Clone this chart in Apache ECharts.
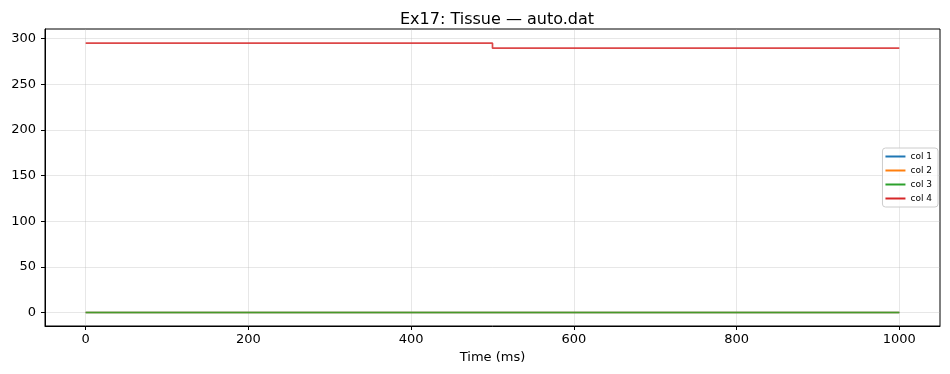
<!DOCTYPE html>
<html><head><meta charset="utf-8">
<script src="https://cdn.jsdelivr.net/npm/echarts@6/dist/echarts.min.js"></script>
<style>html,body{margin:0;padding:0;background:#fff}#c{width:950px;height:374px}</style>
</head><body><div id="c"></div>
<script>
const time = [0, 500, 1000];
const col1 = [0, 0, 0];
const col2 = [0, 0, 0];
const col3 = [0, 0, 0];
const col4 = [295, 289.5, 289.5];
const seriesNames = ['col 1', 'col 2', 'col 3', 'col 4'];
const xTicks = [0, 200, 400, 600, 800, 1000];
const yTicks = [0, 50, 100, 150, 200, 250, 300];

const colors = ['#1f77b4', '#ff7f0e', '#2ca02c', '#d62728'];
const FONT = 'DejaVu Sans';
const cols = [col1, col2, col3, col4];
const chart = echarts.init(document.getElementById('c'));
chart.setOption({
  animation: false,
  textStyle: {fontFamily: FONT},
  title: {text: 'Ex17: Tissue — auto.dat', left: 492, textAlign: 'center', top: 7,
    textStyle: {fontFamily: FONT, fontSize: 16, fontWeight: 'normal', color: '#000'}},
  grid: {left: 45, right: 10, top: 29, bottom: 48, show: true, borderColor: '#000', borderWidth: 1},
  legend: {orient: 'vertical', right: 12, top: 148, itemWidth: 20, itemHeight: 8, itemGap: 5,
    backgroundColor: 'rgba(255,255,255,0.8)', borderColor: '#ccc', borderWidth: 1, borderRadius: 3,
    padding: [4, 6, 4, 3],
    textStyle: {fontFamily: FONT, fontSize: 9, color: '#000'},
    data: seriesNames.map(n => ({name: n, icon: 'path://M0,0 L20,0 L20,2 L0,2 Z'}))},
  xAxis: {type: 'value', min: -50, max: 1050, name: 'Time (ms)', nameLocation: 'middle', nameGap: 25,
    nameTextStyle: {fontFamily: FONT, fontSize: 13, color: '#000'},
    axisLine: {show: true, onZero: false, lineStyle: {color: '#000'}},
    axisTick: {show: true, inside: false, length: 4, customValues: xTicks, lineStyle: {color: '#000'}},
    axisLabel: {customValues: xTicks, formatter: v => String(v), fontFamily: FONT, fontSize: 13, color: '#000', margin: 7},
    splitLine: {show: true, lineStyle: {color: 'rgba(176,176,176,0.3)', width: 1}}},
  yAxis: {type: 'value', min: -14.8, max: 310.5,
    axisLine: {show: true, onZero: false, lineStyle: {color: '#000'}},
    axisTick: {show: true, inside: false, length: 4, customValues: yTicks, lineStyle: {color: '#000'}},
    axisLabel: {customValues: yTicks, formatter: v => String(v), fontFamily: FONT, fontSize: 13, color: '#000', margin: 9},
    splitLine: {show: true, lineStyle: {color: 'rgba(176,176,176,0.3)', width: 1}}},
  series: cols.map((c, i) => ({
    name: seriesNames[i], type: 'line', step: 'end', symbol: 'none',
    data: time.map((t, j) => [t, c[j]]),
    lineStyle: {color: colors[i], width: 1.7, opacity: 0.85},
    itemStyle: {color: colors[i]}
  }))
});
</script></body></html>
